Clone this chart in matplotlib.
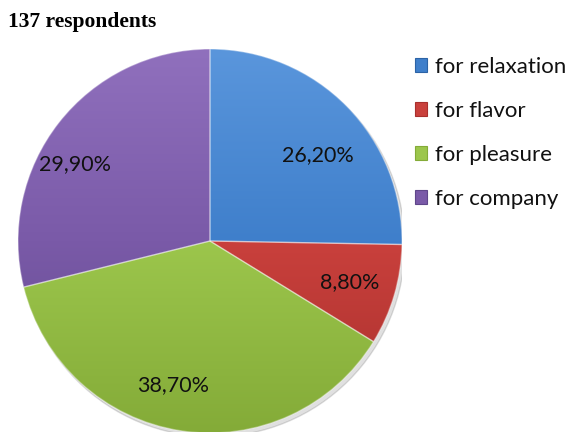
import numpy as np
import matplotlib
matplotlib.use("Agg")
import matplotlib.pyplot as plt
from matplotlib.colors import LinearSegmentedColormap
from matplotlib.patches import Rectangle

# ---- data ----
categories = ["for relaxation", "for flavor", "for pleasure", "for company"]
values = [26.2, 8.8, 38.7, 29.9]
value_labels = ["26,20%", "8,80%", "38,70%", "29,90%"]
title = "137 respondents"

# ---- style ----
base_colors = ["#3f7fcb", "#c9403c", "#9cc64c", "#7a5aa8"]
light_colors = ["#5a96dc", "#de5a55", "#b2d665", "#9070bd"]
dark_colors = ["#2c63a6", "#a8302d", "#84ab38", "#5f478a"]
label_nudge_px = [(4, -16), (0, 0), (-14, 0), (-20, -13)]

plt.rcParams['font.family'] = ['Lato', 'DejaVu Sans']

fig = plt.figure(figsize=(5.71, 4.32), dpi=100)
cx, cy, r = 210, 241, 192
ax = fig.add_axes([(cx - r) / 571, (432 - cy - r) / 432, 2 * r / 571, 2 * r / 432])

# soft shadow
shadow = plt.Circle((0.015, -0.02), 1.0, color="#000000", alpha=0.12, zorder=0)
ax.add_patch(shadow)

wedges, _ = ax.pie(values, startangle=90, counterclock=False, colors=base_colors,
                   radius=1.0, center=(0, 0),
                   wedgeprops=dict(linewidth=0))

grad = np.linspace(0, 1, 256)[:, None]
for i, w in enumerate(wedges):
    cmap = LinearSegmentedColormap.from_list("g%d" % i, [dark_colors[i], base_colors[i], light_colors[i]])
    im = ax.imshow(grad, extent=(-1, 1, -1, 1), origin="lower", cmap=cmap,
                   aspect="auto", zorder=2, interpolation="bilinear")
    im.set_clip_path(w)
    w.set_facecolor("none")
    w.set_edgecolor((1, 1, 1, 0.35))
    w.set_linewidth(1.0)
    w.set_zorder(3)

# labels
total = float(sum(values))
cum = np.cumsum(values)
for i, v in enumerate(values):
    mid = np.deg2rad(90 - 360.0 * (cum[i] - v / 2.0) / total)
    x, y = 0.76 * np.cos(mid), 0.76 * np.sin(mid)
    ax.annotate(value_labels[i], (x, y), xytext=label_nudge_px[i], textcoords="offset pixels",
                ha="center", va="center", fontsize=15.5, color="#111111", zorder=5)

ax.set_xlim(-1, 1)
ax.set_ylim(-1, 1)
ax.set_aspect("equal")
ax.axis("off")

# title
fig.text(8 / 571, 1 - 22 / 432, title, fontsize=15.5, fontweight="bold",
         family="Liberation Serif", va="center", ha="left")

# legend
handles = [Rectangle((0, 0), 1, 1, facecolor=base_colors[i], edgecolor=dark_colors[i], linewidth=0.8)
           for i in range(len(categories))]
fig.legend(handles, categories, loc="upper left", bbox_to_anchor=(415 / 571, 1 - 57 / 432),
           frameon=False, fontsize=16, handlelength=0.55, handleheight=0.55,
           handletextpad=0.35, labelspacing=1.08, borderpad=0, borderaxespad=0,
           labelcolor="#111111")

fig.savefig("out.png", dpi=100)
